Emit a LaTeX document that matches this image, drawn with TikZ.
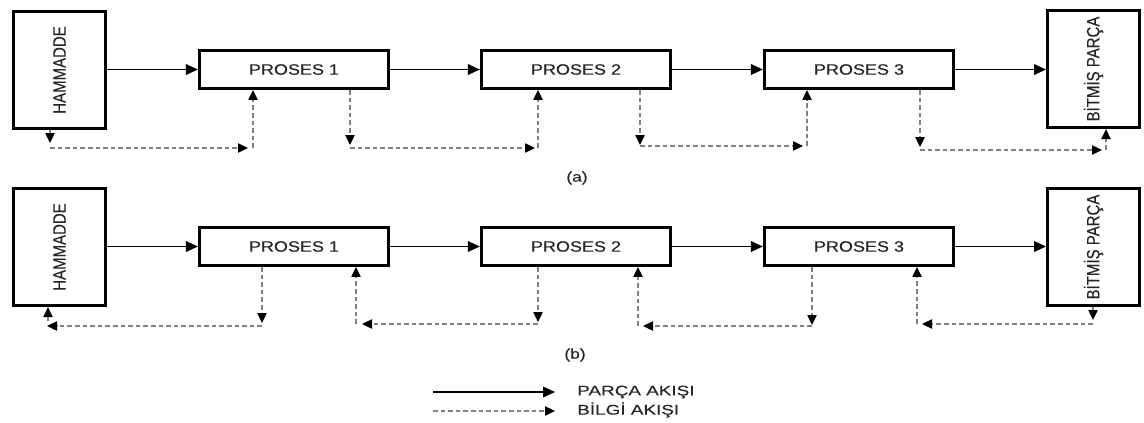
\documentclass[tikz,border=0pt]{standalone}
\usepackage{fontspec}
\usepackage{graphicx}
\setmainfont{Liberation Sans}
% slightly heavier regular face for the labels
\newfontfamily\medfont{Liberation Sans}[FakeBold=0.3]
\usetikzlibrary{arrows.meta}
% horizontally / vertically widened text
\newcommand{\hwide}[2]{\scalebox{#1}[1]{#2}}
\newcommand{\vwide}[2]{\scalebox{1}[#1]{#2}}

\begin{document}
\begin{tikzpicture}[x=0.75pt,y=-0.75pt,
  box/.style={draw=black, line width=2.2pt, fill=white, inner sep=0pt,
              text=black!85, font=\medfont\fontsize{11.25pt}{13pt}\selectfont},
  tallbox/.style={box, minimum width=69pt, minimum height=88pt},
  procbox/.style={box, minimum width=142pt, minimum height=28.5pt},
  vlbl/.style={rotate=90, inner sep=0pt, text=black!85,
               font=\medfont\fontsize{11.25pt}{13pt}\selectfont},
  captxt/.style={inner sep=0pt, text=black!85, font=\medfont\fontsize{10.5pt}{12pt}\selectfont},
  flow/.style={line width=1.2pt, -{Triangle[length=9pt,width=8pt]}},
  info/.style={draw=black!50, line width=0.95pt, dash pattern=on 3.5pt off 2.2pt,
               -{Triangle[length=7.5pt,width=7pt,color=black]}},
]
\useasboundingbox (0,0) rectangle (1144,422);

% ---------------- row (a) ----------------
\node[tallbox] (hamA) at (59.5,70) {};
\node[vlbl] (hamAt) at (hamA) {\vwide{1.2}{HAMMADDE}};
\node[procbox] (p1A) at (294,69.5) {\hwide{1.2}{PROSES 1}};
\node[procbox] (p2A) at (576,69.5) {\hwide{1.2}{PROSES 2}};
\node[procbox] (p3A) at (859,69.5) {\hwide{1.2}{PROSES 3}};
\node[tallbox] (bitA) at (1093.5,69) {};
\node[vlbl] (bitAt) at (bitA) {\vwide{1.2}{BİTMİŞ PARÇA}};

\draw[flow] (hamA.east |- p1A.west) -- (p1A.west);
\draw[flow] (p1A) -- (p2A);
\draw[flow] (p2A) -- (p3A);
\draw[flow] (p3A.east) -- (bitA.west |- p3A.east);

% information flow forward: down, across, up into the next stage
\foreach \src/\dst/\xa/\ya/\yh/\xb/\xc/\n in {
  hamA/p1A/50/143/148/248/253/1,
  p1A/p2A/350/145/148/535/538/2,
  p2A/p3A/640/145/146/803/807/3,
  p3A/bitA/920/147/150/1102/1106/4}
{
  \coordinate (ad\n) at (\xa,\ya);
  \coordinate (ah\n) at (\xa,\yh);
  \coordinate (ae\n) at (\xb,\yh);
  \coordinate (au\n) at (\xc,\yh);
  \draw[info] (\src.south -| ad\n) -- (ad\n);
  \draw[info] (ah\n) -- (ae\n);
  \draw[info] (au\n) -- (au\n |- \dst.south);
}

\node[captxt] (capA) at (577,178) {\hwide{1.25}{(a)}};

% ---------------- row (b) ----------------
\node[tallbox] (hamB) at (59.5,247) {};
\node[vlbl] (hamBt) at (hamB) {\vwide{1.2}{HAMMADDE}};
\node[procbox] (p1B) at (294,246.5) {\hwide{1.2}{PROSES 1}};
\node[procbox] (p2B) at (576,246.5) {\hwide{1.2}{PROSES 2}};
\node[procbox] (p3B) at (859,246.5) {\hwide{1.2}{PROSES 3}};
\node[tallbox] (bitB) at (1093.5,247) {};
\node[vlbl] (bitBt) at (bitB) {\vwide{1.2}{BİTMİŞ PARÇA}};

\draw[flow] (hamB.east |- p1B.west) -- (p1B.west);
\draw[flow] (p1B) -- (p2B);
\draw[flow] (p2B) -- (p3B);
\draw[flow] (p3B.east) -- (bitB.west |- p3B.east);

% information flow backward: down, across, up into the previous stage
\foreach \src/\dst/\xa/\ya/\yh/\xb/\xc/\yv/\n in {
  p1B/hamB/262/323/326/47/48/321/1,
  p2B/p1B/538/322/324/362/356/324/2,
  p3B/p2B/812/325/326/643/638/326/3,
  bitB/p3B/1093/320/324/922/917/324/4}
{
  \coordinate (bd\n) at (\xa,\ya);
  \coordinate (bh\n) at (\xa,\yh);
  \coordinate (be\n) at (\xb,\yh);
  \coordinate (bu\n) at (\xc,\yv);
  \draw[info] (\src.south -| bd\n) -- (bd\n);
  \draw[info] (bh\n) -- (be\n);
  \draw[info] (bu\n) -- (bu\n |- \dst.south);
}

\node[captxt] (capB) at (575,355) {\hwide{1.25}{(b)}};

% ---------------- legend ----------------
\coordinate (lg1s) at (433,392);
\coordinate (lg1e) at (555,392);
\coordinate (lg2s) at (433,411);
\coordinate (lg2e) at (555,411);
\draw[flow] (lg1s) -- (lg1e);
\draw[info] (lg2s) -- (lg2e);
\node[captxt, anchor=west] (lgt1) at (577,392) {\hwide{1.35}{PARÇA AKIŞI}};
\node[captxt, anchor=west] (lgt2) at (577,410) {\hwide{1.35}{BİLGİ AKIŞI}};
\end{tikzpicture}
\end{document}
